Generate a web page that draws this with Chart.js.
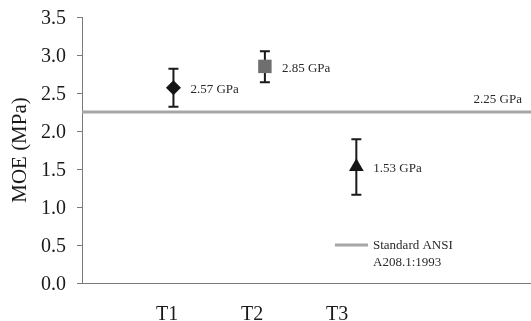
<!DOCTYPE html>
<html>
<head>
<meta charset="utf-8">
<script src="https://cdn.jsdelivr.net/npm/chart.js@4.4.1/dist/chart.umd.min.js"></script>
<style>
  html, body { margin: 0; padding: 0; background: #fff; }
  #wrap { width: 531px; height: 321px; }
</style>
</head>
<body>
<div id="wrap"><canvas id="c" width="531" height="321"></canvas></div>
<script>
// Modulus of elasticity per treatment (mean with error range), and the ANSI reference level
const treatments = ['T1', 'T2', 'T3'];
const moeMean  = [2.57, 2.85, 1.53];
const moeUpper = [2.82, 3.05, 1.89];
const moeLower = [2.32, 2.64, 1.16];
const standardMoe = 2.25;
const standardName = ['Standard ANSI', 'A208.1:1993'];
const yTicks = [0, 0.5, 1.0, 1.5, 2.0, 2.5, 3.0, 3.5];

const SERIF = "'Liberation Serif', 'Times New Roman', serif";
const markerStyles = ['rectRot', 'rect', 'triangle'];
const markerColors = ['#151515', '#6f6f6f', '#151515'];
const markerRadius = [7.5, 9.5, 8.5];

const points = moeMean.map((v, i) => ({ x: i + 1, y: v }));
const POINT_X_MAX = 4.91;   // span of the marker axis
const LABEL_X_MAX = 5.28;   // span of the category label axis

// error bars under the markers, value labels beside them
const errorBars = {
  id: 'errorBars',
  beforeDatasetsDraw(chart) {
    const { ctx, scales } = chart;
    const xs = scales.x, ys = scales.y;
    ctx.save();
    ctx.strokeStyle = '#1a1a1a';
    ctx.lineWidth = 2;
    moeMean.forEach((v, i) => {
      const px = xs.getPixelForValue(i + 1);
      const top = ys.getPixelForValue(moeUpper[i]);
      const bot = ys.getPixelForValue(moeLower[i]);
      ctx.beginPath();
      ctx.moveTo(px, top); ctx.lineTo(px, bot);
      ctx.moveTo(px - 5, top); ctx.lineTo(px + 5, top);
      ctx.moveTo(px - 5, bot); ctx.lineTo(px + 5, bot);
      ctx.stroke();
    });
    ctx.restore();
  },
  afterDatasetsDraw(chart) {
    const { ctx, scales, chartArea } = chart;
    const xs = scales.x, ys = scales.y;
    ctx.save();
    ctx.fillStyle = '#2a2a2a';
    ctx.font = '13px ' + SERIF;
    ctx.textBaseline = 'middle';
    ctx.textAlign = 'left';
    moeMean.forEach((v, i) => {
      const px = xs.getPixelForValue(i + 1);
      const py = ys.getPixelForValue(v);
      ctx.fillText(v.toFixed(2) + ' GPa', px + 17, py + 2);
    });
    // reference level label
    ctx.textAlign = 'right';
    ctx.fillText(standardMoe.toFixed(2) + ' GPa', chartArea.right - 9,
                 ys.getPixelForValue(standardMoe) - 12);
    // legend entry for the reference line
    const lx = chartArea.left + 253, ly = chartArea.bottom - 38;
    ctx.strokeStyle = '#a6a6a6';
    ctx.lineWidth = 3;
    ctx.beginPath();
    ctx.moveTo(lx, ly); ctx.lineTo(lx + 33, ly);
    ctx.stroke();
    ctx.textAlign = 'left';
    ctx.fillText(standardName[0], lx + 38, ly + 1);
    ctx.fillText(standardName[1], lx + 38, ly + 18);
    ctx.restore();
  }
};

new Chart(document.getElementById('c'), {
  type: 'scatter',
  data: {
    datasets: [
      {
        type: 'line',
        label: standardName.join(' '),
        data: [{ x: 0, y: standardMoe }, { x: POINT_X_MAX, y: standardMoe }],
        borderColor: '#a6a6a6',
        borderWidth: 3,
        pointRadius: 0,
        xAxisID: 'x',
        order: 2
      },
      {
        label: 'MOE',
        data: points,
        pointStyle: markerStyles,
        pointRadius: markerRadius,
        pointHoverRadius: markerRadius,
        backgroundColor: markerColors,
        borderColor: markerColors,
        borderWidth: 0,
        xAxisID: 'x',
        order: 1
      }
    ]
  },
  options: {
    responsive: false,
    animation: false,
    layout: { autoPadding: false, padding: { top: 17, right: 0, left: 0, bottom: 0 } },
    plugins: { legend: { display: false }, tooltip: { enabled: false } },
    scales: {
      x: {
        type: 'linear', display: false, min: 0, max: POINT_X_MAX
      },
      xl: {
        type: 'linear', position: 'bottom', min: 0, max: LABEL_X_MAX,
        grid: { display: false },
        border: { display: true, color: '#7a7a7a', width: 1 },
        afterBuildTicks(scale) {
          scale.ticks = treatments.map((t, i) => ({ value: i + 1 }));
        },
        afterFit(scale) { scale.height = 38; },
        ticks: {
          autoSkip: false,
          maxRotation: 0,
          padding: 12,
          color: '#1a1a1a',
          font: { family: SERIF, size: 20 },
          callback: (v) => treatments[v - 1] || ''
        }
      },
      y: {
        min: 0, max: 3.5,
        afterBuildTicks(scale) {
          scale.ticks = yTicks.map(v => ({ value: v }));
        },
        afterFit(scale) {
          scale.width = 82;
          scale.paddingTop = 0;
          scale.paddingBottom = 0;
        },
        grid: { drawOnChartArea: false, tickLength: 5, color: '#7a7a7a' },
        border: { display: true, color: '#7a7a7a', width: 1 },
        title: {
          display: true, text: 'MOE (MPa)', color: '#1a1a1a',
          font: { family: SERIF, size: 21 }, padding: { top: 8, bottom: 0 }
        },
        ticks: {
          padding: 11,
          labelOffset: 2,
          color: '#1a1a1a',
          font: { family: SERIF, size: 20 },
          callback: (v) => Number(v).toFixed(1)
        }
      }
    }
  },
  plugins: [errorBars]
});
</script>
</body>
</html>
